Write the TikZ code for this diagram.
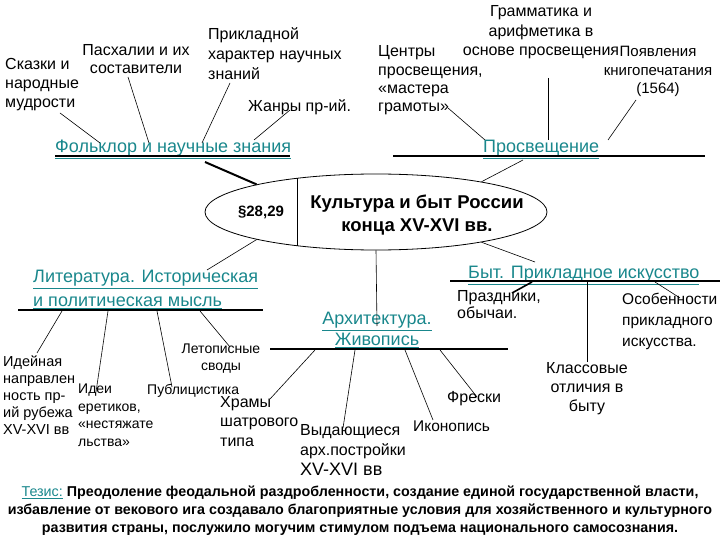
\documentclass[tikz,border=0pt]{standalone}
\usepackage{fontspec}
\setmainfont{Liberation Sans}
\usetikzlibrary{shapes.geometric}
\definecolor{tealx}{RGB}{25,135,140}
\begin{document}
\begin{tikzpicture}[x=1pt,y=-1pt,
  txt/.style={font=\fontsize{16}{19}\selectfont, inner sep=0pt, align=left, anchor=north west},
  ctxt/.style={font=\fontsize{16}{19}\selectfont, inner sep=0pt, align=center, anchor=north},
  lnk/.style={font=\fontsize{18}{22}\selectfont, text=tealx, inner sep=0pt},
  thinline/.style={line width=0.6pt},
  heavyline/.style={line width=2pt},
  midline/.style={line width=1.6pt}]
\useasboundingbox (0,0) rectangle (720,540);

% ---------- central ellipse ----------
\node[draw, ellipse, line width=0.8pt, minimum width=342pt, minimum height=76pt, inner sep=0pt] (ell) at (376,212) {};
\draw[line width=0.8pt] (297,178.3) -- (297,245.7);
\node[font=\bfseries\fontsize{15}{18}\selectfont, anchor=base, inner sep=0pt] (par) at (261,217) {§28,29};
\node[font=\bfseries\fontsize{18.5}{23}\selectfont, align=center, inner sep=0pt] (title) at (417,215) {Культура и быт России\\конца XV-XVI вв.};

% ---------- Folklore ----------
\node[txt] (skazki) at (5,57.7) {Сказки и\\народные\\мудрости};
\node[ctxt, font=\fontsize{16}{18}\selectfont] (pasch) at (136,44.7) {Пасхалии и их\\составители};
\node[txt, font=\fontsize{16}{20}\selectfont] (prikl) at (208,27.7) {Прикладной\\характер научных\\знаний};
\node[txt] (zhanry) at (248,99.7) {Жанры пр-ий.};
\node[lnk, anchor=north west] (folk) at (55,140) {\underline{Фольклор и научные знания}};
\coordinate (folkL) at (55,156);
\coordinate (folkR) at (290,156);
\draw[heavyline] (folkL) -- (folkR);
\coordinate (f1) at (100,143); \coordinate (s1) at (60,113);
\coordinate (f2) at (149,143); \coordinate (s2) at (128,77);
\coordinate (f3) at (202,143); \coordinate (s3) at (230,83);
\coordinate (f4) at (254,140); \coordinate (s4) at (290,110);
\draw[thinline] (s1) -- (f1);
\draw[thinline] (s2) -- (f2);
\draw[thinline] (s3) -- (f3);
\draw[thinline] (s4) -- (f4);
\coordinate (folkc) at (205,162);
\draw[heavyline] (ell.167) -- (folkc);

% ---------- Enlightenment ----------
\node[ctxt, font=\fontsize{16}{19.5}\selectfont] (gramm) at (541,5.7) {Грамматика и\\арифметика в\\основе просвещения};
\node[txt, font=\fontsize{16}{18.3}\selectfont] (centry) at (378,45.7) {Центры\\просвещения,\\«мастера\\грамоты»};
\node[ctxt, font=\fontsize{15}{18.5}\selectfont] (poyavl) at (658,46) {Появления\\книгопечатания\\(1564)};
\node[lnk, anchor=north west] (prosv) at (483,140) {\underline{Просвещение}};
\coordinate (prosvL) at (393,156);
\coordinate (prosvR) at (705,156);
\draw[heavyline] (prosvL) -- (prosvR);
\coordinate (p1) at (448,108); \coordinate (q1) at (485,140);
\coordinate (p2) at (548,78);  \coordinate (q2) at (548,140);
\coordinate (p3) at (636,100); \coordinate (q3) at (608,140);
\draw[thinline] (p1) -- (q1);
\draw[thinline] (p2) -- (q2);
\draw[thinline] (p3) -- (q3);
\coordinate (prosvc) at (523,160);
\draw[thinline] (ell.16) -- (prosvc);

% ---------- Literature ----------
\node[lnk, font=\fontsize{18}{24}\selectfont, align=left, anchor=north west] (lit) at (33,270) {\underline{Литература. Историческая}\\\underline{и политическая мысль}};
\coordinate (litL) at (18,310);
\coordinate (litR) at (263,310);
\draw[heavyline] (litL) -- (litR);
\coordinate (litc) at (207,270);
\draw[thinline] (ell.193) -- (litc);
\coordinate (l1) at (62,311);  \coordinate (m1) at (37,353);
\coordinate (l2) at (108,311); \coordinate (m2) at (96,392);
\coordinate (l3) at (157,311); \coordinate (m3) at (172,387);
\coordinate (l4) at (200,311); \coordinate (m4) at (230,347);
\draw[thinline] (l1) -- (m1);
\draw[thinline] (l2) -- (m2);
\draw[thinline] (l3) -- (m3);
\draw[thinline] (l4) -- (m4);
\node[txt, font=\fontsize{14.5}{16.8}\selectfont] (ideyn) at (3,356) {Идейная\\направлен\\ность пр-\\ий рубежа\\XV-XVI вв};
\node[txt, font=\fontsize{14}{17.5}\selectfont] (idei) at (78,384) {Идеи\\еретиков,\\«нестяжате\\льства»};
\node[txt, font=\fontsize{14}{17}\selectfont] (publ) at (147,384) {Публицистика};
\node[ctxt, font=\fontsize{14}{17}\selectfont] (letop) at (221,344) {Летописные\\своды};

% ---------- Architecture ----------
\node[lnk, font=\fontsize{18}{21}\selectfont, align=center, anchor=north] (arch) at (377,312) {\underline{Архитектура.}\\\underline{Живопись}};
\coordinate (archL) at (270,349);
\coordinate (archR) at (508,349);
\draw[heavyline] (archL) -- (archR);
\coordinate (archc) at (377,326);
\draw[thinline] (ell.south) -- (archc);
\coordinate (a1) at (315,350); \coordinate (b1) at (270,399);
\coordinate (a2) at (355,350); \coordinate (b2) at (343,428);
\coordinate (a3) at (405,350); \coordinate (b3) at (433,420);
\coordinate (a4) at (440,350); \coordinate (b4) at (477,397);
\draw[thinline] (a1) -- (b1);
\draw[thinline] (a2) -- (b2);
\draw[thinline] (a3) -- (b3);
\draw[thinline] (a4) -- (b4);
\node[txt, font=\fontsize{16}{19.5}\selectfont] (hramy) at (220,396) {Храмы\\шатрового\\типа};
\node[txt, font=\fontsize{16}{20}\selectfont] (vyd) at (300,424.7) {Выдающиеся\\арх.постройки\\{\fontsize{18}{23}\selectfont XV-XVI вв}};
\node[txt, font=\fontsize{15.5}{19}\selectfont] (ikon) at (413,421) {Иконопись};
\node[txt] (freski) at (447,391) {Фрески};

% ---------- Everyday life ----------
\node[lnk, anchor=north west] (byt) at (468,266) {\underline{Быт. Прикладное искусство}};
\coordinate (bytL) at (450,281);
\coordinate (bytR) at (720,281);
\draw[heavyline] (bytL) -- (bytR);
\coordinate (bytc) at (535,262);
\draw[thinline] (ell.344) -- (bytc);
\coordinate (u1) at (532,282); \coordinate (v1) at (512,293);
\coordinate (u2) at (587,282); \coordinate (v2) at (587,362);
\coordinate (u3) at (655,282); \coordinate (v3) at (680,298);
\draw[midline] (u1) -- (v1);
\draw[thinline] (u2) -- (v2);
\draw[thinline] (u3) -- (v3);
\node[txt, font=\fontsize{16}{17}\selectfont] (prazd) at (457,290.7) {Праздники,\\обычаи.};
\node[txt, font=\fontsize{15.5}{21}\selectfont] (osob) at (622,293) {Особенности\\прикладного\\искусства.};
\node[ctxt] (klass) at (587,362.7) {Классовые\\отличия в\\быту};

% ---------- Thesis ----------
\node[font=\bfseries\fontsize{14.3}{18}\selectfont, align=center, inner sep=0pt, anchor=north] (thesis) at (360,485.5)
 {{\color{tealx}\mdseries\underline{Тезис:}} Преодоление феодальной раздробленности, создание единой государственной власти,\\избавление от векового ига создавало благоприятные условия для хозяйственного и культурного\\развития страны, послужило могучим стимулом подъема национального самосознания.};
\end{tikzpicture}
\end{document}
